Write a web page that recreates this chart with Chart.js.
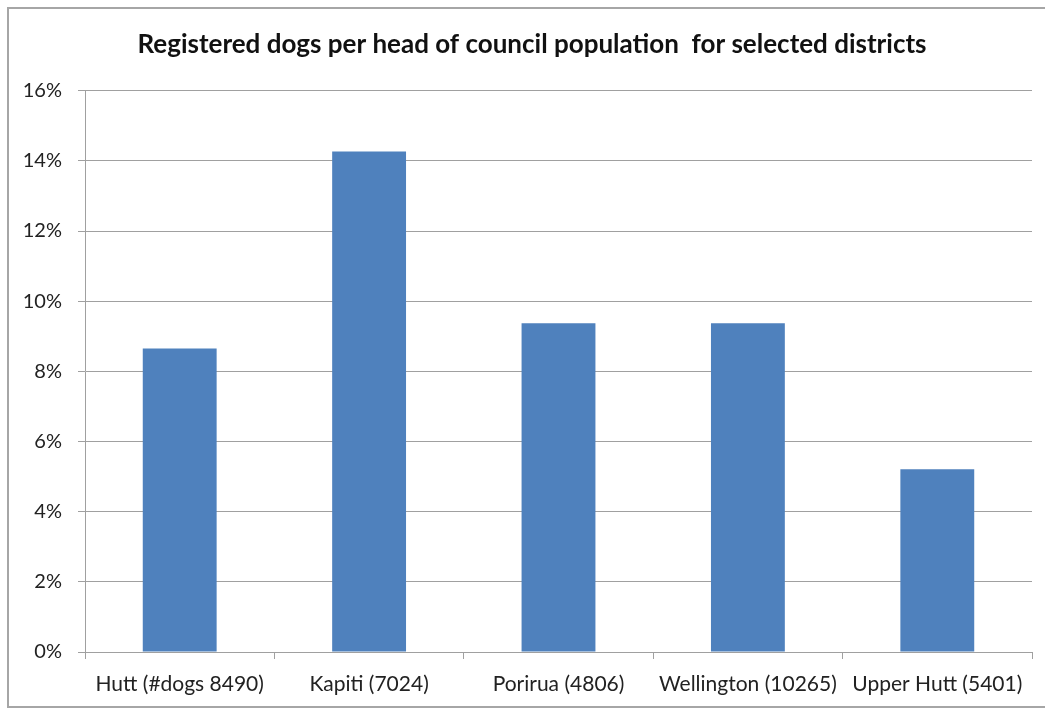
<!DOCTYPE html>
<html>
<head>
<meta charset="utf-8">
<script src="https://cdn.jsdelivr.net/npm/chart.js@4"></script>
<style>
  html, body { margin: 0; padding: 0; background: #fff; }
  #wrap { position: absolute; left: 0; top: 0; width: 1045px; height: 709px; }
  #frame { position: absolute; left: 7px; top: 7px; width: 1045px; height: 697px;
           border-left: 2px solid #a6a6a6; border-top: 2px solid #a6a6a6; border-bottom: 2px solid #a6a6a6; pointer-events: none; }
</style>
</head>
<body>
<div id="wrap"><canvas id="c" width="1045" height="709"></canvas></div>
<div id="frame"></div>
<script>
const titleText = "Registered dogs per head of council population  for selected districts";
const categories = ["Hutt (#dogs 8490)", "Kapiti (7024)", "Porirua (4806)", "Wellington (10265)", "Upper Hutt (5401)"];
const dogsPerHead = [8.65, 14.27, 9.37, 9.37, 5.21];
const yMin = 0, yMax = 16, yStep = 2;

const grey = '#a0a0a0';
const shiftTitle = {
  id: 'shiftTitle',
  afterLayout(chart) {
    const t = chart.titleBlock;
    if (t) { t.left += 16; t.right += 16; }
  }
};
new Chart(document.getElementById('c'), {
  type: 'bar',
  data: {
    labels: categories,
    datasets: [{
      data: dogsPerHead,
      backgroundColor: '#4f81bd',
      borderWidth: 0,
      barPercentage: 0.39,
      categoryPercentage: 1.0
    }]
  },
  plugins: [shiftTitle],
  options: {
    responsive: false,
    animation: false,
    devicePixelRatio: 1,
    layout: { padding: { left: 0, right: 13, top: 0, bottom: 0 } },
    plugins: {
      legend: { display: false },
      tooltip: { enabled: false },
      title: {
        display: true,
        text: titleText,
        color: '#111',
        font: { family: 'Lato', size: 26, weight: 'bold' },
        padding: { top: 29.5, bottom: 30 }
      }
    },
    scales: {
      x: {
        grid: { drawOnChartArea: false, drawTicks: true, tickLength: 7, color: grey, offset: true },
        border: { display: true, color: grey },
        ticks: { color: '#222', font: { family: 'Lato', size: 21 }, padding: 12.4, maxRotation: 0, autoSkip: false }
      },
      y: {
        min: yMin, max: yMax,
        afterFit: (s) => { s.width = 85; },
        grid: { color: grey, tickLength: 7, drawTicks: true },
        border: { display: true, color: grey },
        ticks: { stepSize: yStep, color: '#222', font: { family: 'Lato', size: 20 }, padding: 16,
                 callback: (v) => v + '%' }
      }
    }
  }
});
</script>
</body>
</html>
